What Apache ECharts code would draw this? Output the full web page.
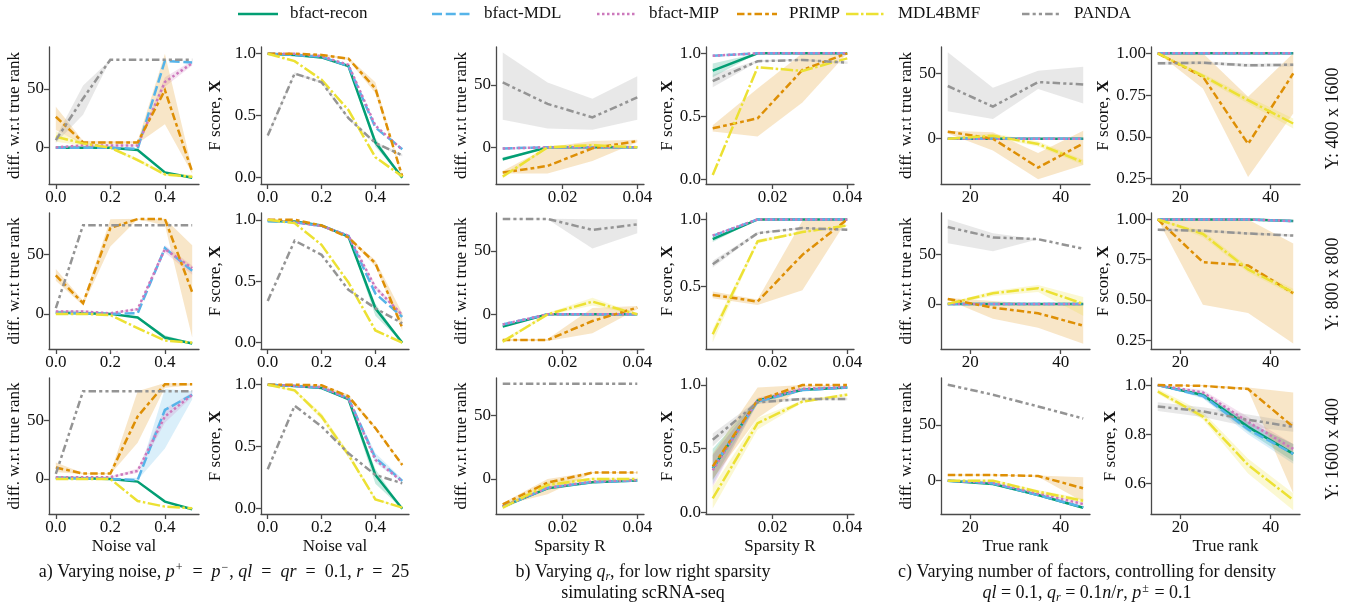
<!DOCTYPE html>
<html><head><meta charset="utf-8">
<script src="https://cdn.jsdelivr.net/npm/echarts@6/dist/echarts.min.js"></script>
<style>html,body{margin:0;padding:0;background:#fff}#c{width:1354px;height:607px}</style>
</head><body><div id="c"></div><script>
// ---------------- DATA ----------------
const seriesKeys = ['recon','mdl','mip','primp','mdl4','panda'];
const seriesNames = ['bfact-recon','bfact-MDL','bfact-MIP','PRIMP','MDL4BMF','PANDA'];

const noiseX = [0, 0.1, 0.2, 0.3, 0.4, 0.5];
const sparsX = [0.004, 0.016, 0.028, 0.04];
const rankX = [15, 25, 35, 45];

const diffTicks = [0, 50];
const fTicks = [0, 0.5, 1.0];
const fTicksHigh = [0.5, 1.0];
const fRankTicks = [0.25, 0.5, 0.75, 1.0];
const fRankTicks3 = [0.6, 0.8, 1.0];
const noiseTicks = [0, 0.2, 0.4];
const sparsTicks = [0.02, 0.04];
const rankTicks = [20, 40];

const rowLabels = ['Y: 400 x 1600', 'Y: 800 x 800', 'Y: 1600 x 400'];

// Row 1 : Y 400 x 1600
const noise400Diff = {
  recon: [0, 0, 0, -2, -21, -25.6],
  mdl:   [0, 0, 0, -1, 74, 72.5],
  mip:   [0.3, 2, 2, 2, 56, 72],
  primp: [26.4, 4.5, 4.5, 4.5, 49, -20.5],
  mdl4:  [9.4, 3.7, 0, -10.5, -22.7, -24.7],
  panda: [6.5, 42, 75, 75, 75, 75]
};
const noise400DiffBand = {
  primp: {lo: [15, 3, 3.5, 3.5, 20, -22], hi: [35, 6, 5.5, 5.5, 80, -18]},
  panda: {lo: [4, 28, 75, 75, 75, 75], hi: [9, 53, 75, 75, 75, 75]},
  mdl4:  {lo: [5, 2, -1, -12, -24, -26], hi: [14, 5, 1, -9, -21, -23]},
  mip:   {lo: [0, 1, 1, 1, 52, 70], hi: [1, 3, 3, 3, 60, 74]}
};
const noise400F = {
  recon: [1.0, 0.99, 0.97, 0.90, 0.285, 0.0],
  mdl:   [1.0, 0.99, 0.975, 0.90, 0.405, 0.23],
  mip:   [1.0, 1.0, 0.98, 0.91, 0.42, 0.225],
  primp: [1.0, 1.0, 0.99, 0.96, 0.72, 0.01],
  mdl4:  [1.0, 0.94, 0.79, 0.545, 0.165, 0.01],
  panda: [0.34, 0.84, 0.77, 0.48, 0.28, 0.18]
};
const noise400FBand = {
  primp: {lo: [1, 1, 0.985, 0.95, 0.68, 0.0], hi: [1, 1, 0.995, 0.97, 0.77, 0.02]},
  recon: {lo: [1, 0.985, 0.96, 0.89, 0.25, 0], hi: [1, 0.995, 0.98, 0.91, 0.32, 0]},
  panda: {lo: [0.32, 0.83, 0.76, 0.47, 0.27, 0.17], hi: [0.36, 0.85, 0.78, 0.49, 0.29, 0.19]}
};
const spars400Diff = {
  recon: [-9.6, 0, 0, 0],
  mdl:   [-1, 0, 0, 0],
  mip:   [-1, 0, 0, 0],
  primp: [-20.3, -15, -0.8, 5],
  mdl4:  [-23.5, 0, 1.6, 0],
  panda: [52, 34.8, 24, 40]
};
const spars400DiffBand = {
  panda: {lo: [22, 15, 14, 22], hi: [76, 52, 39, 57]},
  primp: {lo: [-21, -21, -11, 4], hi: [-19, 0, 5, 6]},
  recon: {lo: [-11, 0, 0, 0], hi: [-8, 0, 0, 0]},
  mdl4:  {lo: [-25, -1, 0, -0.5], hi: [-22, 1, 3, 0.5]}
};
const spars400F = {
  recon: [0.862, 1, 1, 1],
  mdl:   [0.98, 1, 1, 1],
  mip:   [0.98, 1, 1, 1],
  primp: [0.405, 0.484, 0.868, 1.0],
  mdl4:  [0.034, 0.89, 0.86, 0.96],
  panda: [0.78, 0.937, 0.947, 0.926]
};
const spars400FBand = {
  recon: {lo: [0.81, 1, 1, 1], hi: [0.92, 1, 1, 1]},
  panda: {lo: [0.73, 0.93, 0.94, 0.915], hi: [0.83, 0.945, 0.955, 0.935]},
  primp: {lo: [0.38, 0.34, 0.61, 1.0], hi: [0.43, 0.72, 1.0, 1.0]}
};
const rank400Diff = {
  recon: [0, 0, 0, 0],
  mdl:   [0, 0, 0, 0],
  mip:   [0, 0, 0, 0],
  primp: [5.4, 0, -22, -3.6],
  mdl4:  [0, 2.3, -4, -18],
  panda: [40.3, 24.5, 43.3, 41.5]
};
const rank400DiffBand = {
  panda: {lo: [21, 15, 38, 27], hi: [66, 39, 52, 55]},
  primp: {lo: [4, -9, -31, -20], hi: [6, 5, -11, 6]},
  mdl4:  {lo: [-1, 1, -6, -20], hi: [1, 4, -2, -16]}
};
const rank400F = {
  recon: [1, 1, 1, 1],
  mdl:   [1, 1, 1, 1],
  mip:   [1, 1, 1, 1],
  primp: [1.0, 0.86, 0.458, 0.88],
  mdl4:  [1.0, 0.865, 0.72, 0.58],
  panda: [0.94, 0.944, 0.928, 0.932]
};
const rank400FBand = {
  primp: {lo: [1.0, 0.79, 0.26, 0.64], hi: [1.0, 1.0, 0.74, 1.0]},
  panda: {lo: [0.93, 0.935, 0.918, 0.922], hi: [0.95, 0.952, 0.938, 0.94]},
  mdl4:  {lo: [1.0, 0.85, 0.70, 0.55], hi: [1.0, 0.88, 0.74, 0.61]}
};

// Row 2 : Y 800 x 800
const noise800Diff = {
  recon: [1, 0.5, 0, -3, -20, -25],
  mdl:   [1, 0.5, 0, 0.5, 55.6, 36.4],
  mip:   [2, 2, 0.5, 4, 54.8, 38.7],
  primp: [32.5, 9, 72.6, 80.2, 80.2, 18.4],
  mdl4:  [0, 0, -1, -12, -22.6, -24.3],
  panda: [4.8, 75, 75, 75, 75, 75]
};
const noise800DiffBand = {
  primp: {lo: [28, 7, 57, 80, 75, -20], hi: [38, 11, 80, 80.5, 80.5, 58]},
  mip:   {lo: [1, 1, 0, 3, 52, 33], hi: [3, 3, 1, 5, 58, 41]},
  recon: {lo: [1, 0.5, 0, -3.5, -22, -25.5], hi: [1, 0.5, 0, -2.5, -18, -24.5]}
};
const noise800F = {
  recon: [0.99, 0.986, 0.954, 0.864, 0.28, 0],
  mdl:   [0.99, 0.98, 0.95, 0.87, 0.40, 0.21],
  mip:   [1.0, 0.98, 0.95, 0.87, 0.45, 0.225],
  primp: [1.0, 1.0, 0.954, 0.856, 0.647, 0.122],
  mdl4:  [1.0, 0.973, 0.796, 0.49, 0.10, 0],
  panda: [0.34, 0.83, 0.715, 0.43, 0.28, 0.158]
};
const noise800FBand = {
  recon: {lo: [0.99, 0.98, 0.95, 0.86, 0.22, 0], hi: [1, 0.99, 0.96, 0.87, 0.32, 0]},
  primp: {lo: [1, 1, 0.95, 0.85, 0.62, 0.10], hi: [1, 1, 0.96, 0.86, 0.67, 0.24]},
  mip:   {lo: [0.99, 0.97, 0.94, 0.86, 0.43, 0.21], hi: [1, 0.99, 0.96, 0.88, 0.47, 0.24]}
};
const spars800Diff = {
  recon: [-9.7, 0, 0, 0],
  mdl:   [-8, 0, 0, 0],
  mip:   [-8, 0, 0, 0],
  primp: [-20.3, -20.3, -5.3, 5.3],
  mdl4:  [-21.6, 0, 10, 0],
  panda: [75.3, 75.3, 66.6, 71]
};
const spars800DiffBand = {
  panda: {lo: [75, 75, 52, 64], hi: [75.5, 75.5, 75, 75]},
  primp: {lo: [-21, -21, -15, 4], hi: [-19.5, -19.5, 5, 6.5]},
  mdl4:  {lo: [-23, -1, 7, -0.5], hi: [-20, 1, 13, 0.5]}
};
const spars800F = {
  recon: [0.852, 1, 1, 1],
  mdl:   [0.877, 1, 1, 1],
  mip:   [0.88, 1, 1, 1],
  primp: [0.435, 0.385, 0.735, 1.0],
  mdl4:  [0.14, 0.835, 0.905, 0.955],
  panda: [0.665, 0.897, 0.935, 0.922]
};
const spars800FBand = {
  panda: {lo: [0.64, 0.89, 0.93, 0.915], hi: [0.69, 0.905, 0.94, 0.93]},
  primp: {lo: [0.41, 0.36, 0.47, 1.0], hi: [0.46, 0.40, 0.99, 1.0]},
  mdl4:  {lo: [0.08, 0.82, 0.9, 0.95], hi: [0.18, 0.85, 0.91, 0.96]},
  recon: {lo: [0.83, 1, 1, 1], hi: [0.87, 1, 1, 1]}
};
const rank800Diff = {
  recon: [0, 0, 0, 0],
  mdl:   [0, 0, 0, 0],
  mip:   [0, 0, 0, 0],
  primp: [5, -3.7, -9.4, -21.8],
  mdl4:  [0, 10.7, 15.8, 0],
  panda: [77.2, 66.8, 65, 55.4]
};
const rank800DiffBand = {
  panda: {lo: [61, 53, 65, 55.4], hi: [85, 71, 65, 55.4]},
  primp: {lo: [4, -15, -24, -40], hi: [6, 3, 0, 0]},
  mdl4:  {lo: [-1, 8, 12, -12], hi: [1, 13, 19, 7]}
};
const rank800F = {
  recon: [1, 1, 1, 0.99],
  mdl:   [1, 1, 1, 0.99],
  mip:   [1, 1, 1, 0.99],
  primp: [1.0, 0.735, 0.714, 0.542],
  mdl4:  [1.0, 0.91, 0.69, 0.548],
  panda: [0.936, 0.93, 0.913, 0.90]
};
const rank800FBand = {
  primp: {lo: [1.0, 0.47, 0.42, 0.23], hi: [1.0, 1.0, 1.0, 0.85]},
  mdl4:  {lo: [1, 0.89, 0.67, 0.53], hi: [1, 0.93, 0.71, 0.57]},
  panda: {lo: [0.93, 0.922, 0.905, 0.892], hi: [0.944, 0.938, 0.921, 0.908]}
};

// Row 3 : Y 1600 x 400
const noise1600Diff = {
  recon: [1, 0.5, 0, -2.3, -19.4, -26],
  mdl:   [0.5, 0.5, 0, -1, 59, 72],
  mip:   [1.5, 1.5, 1.5, 6.9, 53.4, 72],
  primp: [9.7, 4.6, 4.6, 53.4, 80.9, 80.9],
  mdl4:  [0, 0, 0, -18.9, -23.7, -25.1],
  panda: [4.3, 75, 75, 75, 75, 75]
};
const noise1600DiffBand = {
  primp: {lo: [6, 4, 4, 31, 78, 80], hi: [14, 5, 5, 75, 82, 81.5]},
  mdl:   {lo: [0, 0, -0.5, -1, 26, 68], hi: [1, 1, 0.5, 1, 77, 75]},
  mip:   {lo: [1, 1, 1, 5, 48, 70], hi: [2, 2, 2, 9, 60, 74]}
};
const noise1600F = {
  recon: [1.0, 0.99, 0.973, 0.884, 0.272, 0],
  mdl:   [1.0, 0.99, 0.975, 0.89, 0.41, 0.224],
  mip:   [1.0, 0.99, 0.98, 0.89, 0.394, 0.218],
  primp: [1.0, 1.0, 0.995, 0.906, 0.65, 0.353],
  mdl4:  [1.0, 0.954, 0.744, 0.434, 0.075, 0.008],
  panda: [0.318, 0.83, 0.663, 0.447, 0.272, 0.205]
};
const noise1600FBand = {
  recon: {lo: [1, 0.985, 0.965, 0.87, 0.2, 0], hi: [1, 0.995, 0.98, 0.895, 0.32, 0]},
  mdl:   {lo: [1, 0.985, 0.97, 0.88, 0.37, 0.21], hi: [1, 0.995, 0.98, 0.90, 0.45, 0.24]},
  primp: {lo: [1, 1, 0.99, 0.89, 0.64, 0.34], hi: [1, 1, 1, 0.92, 0.66, 0.36]},
  mdl4:  {lo: [1, 0.94, 0.72, 0.41, 0.065, 0.005], hi: [1, 0.965, 0.77, 0.46, 0.085, 0.01]}
};
const spars1600Diff = {
  recon: [-21.8, -7.4, -2.6, -1.3],
  mdl:   [-22, -7, -2.5, -1.3],
  mip:   [-21.5, -7, -2, -1],
  primp: [-20, -2.9, 5, 5],
  mdl4:  [-22.6, -4.7, 0, 0],
  panda: [75, 75, 75, 75]
};
const spars1600DiffBand = {
  primp: {lo: [-21, -12, 4.5, 4.5], hi: [-19, 0, 5.5, 5.5]},
  mdl4:  {lo: [-24, -7, -1, -1], hi: [-21, -2, 1, 1]}
};
const spars1600F = {
  recon: [0.346, 0.877, 0.963, 0.98],
  mdl:   [0.35, 0.87, 0.96, 0.98],
  mip:   [0.33, 0.88, 0.97, 0.985],
  primp: [0.36, 0.88, 1.0, 1.0],
  mdl4:  [0.11, 0.70, 0.87, 0.924],
  panda: [0.57, 0.864, 0.89, 0.89]
};
const spars1600FBand = {
  recon: {lo: [0.25, 0.86, 0.95, 0.975], hi: [0.50, 0.89, 0.97, 0.985]},
  mdl:   {lo: [0.22, 0.85, 0.95, 0.97], hi: [0.45, 0.89, 0.97, 0.99]},
  mip:   {lo: [0.2, 0.86, 0.96, 0.98], hi: [0.45, 0.9, 0.98, 0.99]},
  primp: {lo: [0.26, 0.74, 0.98, 1.0], hi: [0.46, 0.98, 1.0, 1.0]},
  mdl4:  {lo: [0.03, 0.65, 0.86, 0.91], hi: [0.2, 0.74, 0.88, 0.935]},
  panda: {lo: [0.52, 0.85, 0.88, 0.88], hi: [0.62, 0.88, 0.90, 0.90]}
};
const rank1600Diff = {
  recon: [0, -3, -12.9, -24.3],
  mdl:   [0, -2.5, -13, -24],
  mip:   [0, -2, -11.5, -21],
  primp: [5, 5, 4.2, -6.9],
  mdl4:  [0, 0, -9.9, -18],
  panda: [86, 77, 66.5, 55.7]
};
const rank1600DiffBand = {
  primp: {lo: [4.5, 4.5, 3.5, -19], hi: [5.5, 5.5, 4.5, 3]},
  recon: {lo: [0, -4, -14, -25.5], hi: [0, -2, -12, -23]},
  mdl4:  {lo: [-1, -1, -11, -20], hi: [1, 1, -8.5, -16]},
  mip:   {lo: [0, -3, -12.5, -22.5], hi: [0, -1, -10.5, -19.5]}
};
const rank1600F = {
  recon: [1.0, 0.96, 0.83, 0.72],
  mdl:   [1.0, 0.956, 0.82, 0.72],
  mip:   [1.0, 0.97, 0.85, 0.74],
  primp: [1.0, 0.997, 0.984, 0.83],
  mdl4:  [0.974, 0.872, 0.675, 0.532],
  panda: [0.913, 0.893, 0.859, 0.83]
};
const rank1600FBand = {
  recon: {lo: [1, 0.95, 0.81, 0.69], hi: [1, 0.97, 0.85, 0.76]},
  mdl:   {lo: [1, 0.945, 0.80, 0.68], hi: [1, 0.965, 0.85, 0.76]},
  mip:   {lo: [1, 0.96, 0.83, 0.72], hi: [1, 0.98, 0.87, 0.76]},
  primp: {lo: [1, 0.995, 0.98, 0.56], hi: [1, 1, 0.99, 0.97]},
  mdl4:  {lo: [0.965, 0.86, 0.64, 0.49], hi: [0.985, 0.89, 0.70, 0.56]},
  panda: {lo: [0.895, 0.87, 0.83, 0.81], hi: [0.93, 0.91, 0.88, 0.85]}
};

// ---------------- STYLE / LAYOUT ----------------
const COLORS = {recon:'#029E73', mdl:'#56B4E9', mip:'#CC78BC', primp:'#DE8F05', mdl4:'#ECE133', panda:'#949494'};
const LW = 2.5;
const DASHES = {recon:null, mdl:[4,1.5], mip:[1,1], primp:[3,1.25,1.5,1.25], mdl4:[5,1,1,1], panda:[3,1.25,1.25,1.25,1.25,1.25]};
const FONT = 'Liberation Serif';
const AXIS_COLOR = '#4a4a4a';
const TEXT_COLOR = '#111';

const colLeft = [49, 261, 496, 706, 941, 1151];
const colWidth = [150, 148, 148, 148, 149, 149];
const rowTop = [47, 213, 378];
const rowHeight = [137, 136, 136];
const yNameGap = [22, 37, 25, 27, 25, 39];

const xConf = {
  noise: {x: noiseX, ticks: noiseTicks, dec: 1, min: -0.025, max: 0.525, name: 'Noise val'},
  spars: {x: sparsX, ticks: sparsTicks, dec: 2, min: 0.0022, max: 0.0418, name: 'Sparsity R'},
  rank:  {x: rankX, ticks: rankTicks, dec: 0, min: 13.5, max: 46.5, name: 'True rank'}
};
const DIFF_NAME = 'diff. w.r.t true rank';
const F_NAME = 'F score, {b|X}';

const panels = [
  {r:0,c:0,xk:'noise',d:noise400Diff,b:noise400DiffBand,ymin:-30.9,ymax:85.8,yt:diffTicks,yd:0,yn:DIFF_NAME},
  {r:0,c:1,xk:'noise',d:noise400F,b:noise400FBand,ymin:-0.051,ymax:1.054,yt:fTicks,yd:1,yn:F_NAME},
  {r:0,c:2,xk:'spars',d:spars400Diff,b:spars400DiffBand,ymin:-29.5,ymax:80.5,yt:diffTicks,yd:0,yn:DIFF_NAME},
  {r:0,c:3,xk:'spars',d:spars400F,b:spars400FBand,ymin:-0.037,ymax:1.05,yt:fTicks,yd:1,yn:F_NAME},
  {r:0,c:4,xk:'rank',d:rank400Diff,b:rank400DiffBand,ymin:-34.6,ymax:70.1,yt:diffTicks,yd:0,yn:DIFF_NAME},
  {r:0,c:5,xk:'rank',d:rank400F,b:rank400FBand,ymin:0.218,ymax:1.038,yt:fRankTicks,yd:2,yn:F_NAME},
  {r:1,c:0,xk:'noise',d:noise800Diff,b:noise800DiffBand,ymin:-29.7,ymax:85.3,yt:diffTicks,yd:0,yn:DIFF_NAME},
  {r:1,c:1,xk:'noise',d:noise800F,b:noise800FBand,ymin:-0.051,ymax:1.055,yt:fTicks,yd:1,yn:F_NAME},
  {r:1,c:2,xk:'spars',d:spars800Diff,b:spars800DiffBand,ymin:-27.4,ymax:80,yt:diffTicks,yd:0,yn:DIFF_NAME},
  {r:1,c:3,xk:'spars',d:spars800F,b:spars800FBand,ymin:0.03,ymax:1.048,yt:fTicksHigh,yd:1,yn:F_NAME},
  {r:1,c:4,xk:'rank',d:rank800Diff,b:rank800DiffBand,ymin:-45.3,ymax:91.3,yt:diffTicks,yd:0,yn:DIFF_NAME},
  {r:1,c:5,xk:'rank',d:rank800F,b:rank800FBand,ymin:0.196,ymax:1.04,yt:fRankTicks,yd:2,yn:F_NAME},
  {r:2,c:0,xk:'noise',d:noise1600Diff,b:noise1600DiffBand,ymin:-30,ymax:86.3,yt:diffTicks,yd:0,yn:DIFF_NAME},
  {r:2,c:1,xk:'noise',d:noise1600F,b:noise1600FBand,ymin:-0.043,ymax:1.054,yt:fTicks,yd:1,yn:F_NAME},
  {r:2,c:2,xk:'spars',d:spars1600Diff,b:spars1600DiffBand,ymin:-27.6,ymax:79.5,yt:diffTicks,yd:0,yn:DIFF_NAME},
  {r:2,c:3,xk:'spars',d:spars1600F,b:spars1600FBand,ymin:-0.013,ymax:1.055,yt:fTicks,yd:1,yn:F_NAME},
  {r:2,c:4,xk:'rank',d:rank1600Diff,b:rank1600DiffBand,ymin:-29.9,ymax:92,yt:diffTicks,yd:0,yn:DIFF_NAME},
  {r:2,c:5,xk:'rank',d:rank1600F,b:rank1600FBand,ymin:0.475,ymax:1.029,yt:fRankTicks3,yd:1,yn:F_NAME,gap:32}
];

// ---------------- BUILD ----------------
function hexA(hex, a){
  const n = parseInt(hex.slice(1),16);
  return 'rgba(' + ((n>>16)&255) + ',' + ((n>>8)&255) + ',' + (n&255) + ',' + a + ')';
}
function dashOf(k){ return DASHES[k] ? DASHES[k].map(v => v*LW) : 'solid'; }
function bandRenderer(color){
  return function(params, api){
    if (params.dataIndexInside !== 0) return null;
    const n = params.dataInsideLength;
    const top = [], bot = [];
    for (let j = 0; j < n; j++) {
      const xv = api.value(0, j);
      top.push(api.coord([xv, api.value(2, j)]));
      bot.push(api.coord([xv, api.value(1, j)]));
    }
    return {type:'polygon', shape:{points: top.concat(bot.reverse())}, style:{fill: hexA(color, 0.22), stroke: null}};
  };
}

const grids = [], xAxes = [], yAxes = [], series = [];
const axisLineStyle = {color: AXIS_COLOR, width: 1.3};
const labelStyle = {fontFamily: FONT, fontSize: 17, color: TEXT_COLOR};

panels.forEach((p, i) => {
  const xc = xConf[p.xk];
  grids.push({left: colLeft[p.c], top: rowTop[p.r], width: colWidth[p.c], height: rowHeight[p.r], outerBoundsMode: 'none', containLabel: false});
  xAxes.push({
    gridIndex: i, type: 'value', min: xc.min, max: xc.max,
    axisLine: {show: true, onZero: false, lineStyle: axisLineStyle},
    axisTick: {show: true, length: 5, customValues: xc.ticks, lineStyle: axisLineStyle},
    axisLabel: Object.assign({customValues: xc.ticks, margin: 5, formatter: v => Number(v).toFixed(xc.dec)}, labelStyle),
    splitLine: {show: false},
    name: p.r === 2 ? xc.name : '', nameLocation: 'middle', nameGap: 24,
    nameTextStyle: {fontFamily: FONT, fontSize: 17, color: TEXT_COLOR}
  });
  yAxes.push({
    gridIndex: i, type: 'value', min: p.ymin, max: p.ymax,
    axisLine: {show: true, onZero: false, lineStyle: axisLineStyle},
    axisTick: {show: true, length: 5, customValues: p.yt, lineStyle: axisLineStyle},
    axisLabel: Object.assign({customValues: p.yt, margin: 5, formatter: v => Number(v).toFixed(p.yd)}, labelStyle),
    splitLine: {show: false},
    name: p.yn, nameLocation: 'middle', nameGap: p.gap || yNameGap[p.c],
    nameTextStyle: {fontFamily: FONT, fontSize: 17, color: TEXT_COLOR,
      rich: {b: {fontFamily: FONT, fontSize: 17, fontWeight: 'bold', color: TEXT_COLOR}}}
  });
  // bands
  seriesKeys.forEach(k => {
    const bd = p.b[k];
    if (!bd) return;
    series.push({
      type: 'custom', xAxisIndex: i, yAxisIndex: i, silent: true, z: 1,
      encode: {x: 0, y: [1, 2]},
      data: xc.x.map((xv, j) => [xv, bd.lo[j], bd.hi[j]]),
      renderItem: bandRenderer(COLORS[k]), clip: true
    });
  });
  // lines
  seriesKeys.forEach((k, si) => {
    series.push({
      type: 'line', name: seriesNames[si], xAxisIndex: i, yAxisIndex: i, silent: true,
      z: 3 + si, symbol: 'none', showSymbol: false,
      data: xc.x.map((xv, j) => [xv, p.d[k][j]]),
      lineStyle: {color: COLORS[k], width: LW, type: dashOf(k), cap: 'butt', join: 'miter'},
      itemStyle: {color: COLORS[k]}
    });
  });
});

// graphics: legend, row labels, captions
const graphic = [];
const legendLineX = [238, 432, 597, 737, 846, 1022];
seriesKeys.forEach((k, si) => {
  const x0 = legendLineX[si];
  graphic.push({type: 'line', shape: {x1: x0, y1: 14, x2: x0 + 40, y2: 14},
    style: {stroke: COLORS[k], lineWidth: LW, lineDash: DASHES[k] ? DASHES[k].map(v => v*LW) : null}});
  graphic.push({type: 'text', x: x0 + 52, y: 14,
    style: {text: seriesNames[si], fontFamily: FONT, fontSize: 17, fill: TEXT_COLOR,
      align: 'left', verticalAlign: 'middle', textAlign: 'left', textVerticalAlign: 'middle'}});
});
rowLabels.forEach((t, r) => {
  graphic.push({type: 'text', x: 1333, y: rowTop[r] + rowHeight[r]/2 + 3, rotation: Math.PI/2,
    style: {text: t, fontFamily: FONT, fontSize: 18, fill: TEXT_COLOR,
      align: 'center', verticalAlign: 'middle', textAlign: 'center', textVerticalAlign: 'middle'}});
});
const rich = {
  i: {fontFamily: FONT, fontSize: 18, fontStyle: 'italic', fill: TEXT_COLOR, color: TEXT_COLOR},
  sup: {fontFamily: FONT, fontSize: 12, fill: TEXT_COLOR, color: TEXT_COLOR, verticalAlign: 'top', padding: [0, 1, 6, 1]},
  subi: {fontFamily: FONT, fontSize: 12, fontStyle: 'italic', fill: TEXT_COLOR, color: TEXT_COLOR, verticalAlign: 'bottom', padding: [6, 0, 0, 0]}
};
const EQ = '\u2002=\u2002';
const captions = [
  {x: 224, y: 573, text: 'a) Varying noise, {i|p}{sup|+}' + EQ + '{i|p}{sup|−}, {i|ql}' + EQ + '{i|qr}' + EQ + '0.1, {i|r}' + EQ + '25'},
  {x: 643, y: 573, text: 'b) Varying {i|q}{subi|r}, for low right sparsity\nsimulating scRNA-seq'},
  {x: 1087, y: 573, text: 'c) Varying number of factors, controlling for density\n{i|ql} = 0.1, {i|q}{subi|r} = 0.1{i|n}/{i|r}, {i|p}{sup|±} = 0.1'}
];
captions.forEach(cp => {
  graphic.push({type: 'text', x: cp.x, y: cp.y - 11,
    style: {text: cp.text, rich: rich, fontFamily: FONT, fontSize: 18, fill: TEXT_COLOR, lineHeight: 21,
      align: 'center', verticalAlign: 'top', textAlign: 'center', textVerticalAlign: 'top'}});
});

const chart = echarts.init(document.getElementById('c'), null, {renderer: 'canvas'});
chart.setOption({
  animation: false,
  backgroundColor: '#ffffff',
  grid: grids, xAxis: xAxes, yAxis: yAxes, series: series, graphic: graphic
});
</script></body></html>
